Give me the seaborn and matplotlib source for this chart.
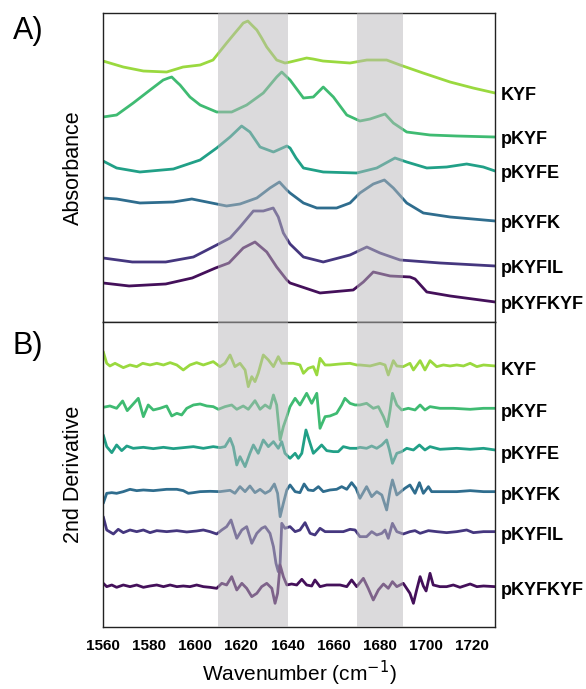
import matplotlib
matplotlib.use("Agg")
import matplotlib.pyplot as plt
from matplotlib.ticker import MultipleLocator
import seaborn as sns
import pandas as pd

samples = ['KYF', 'pKYF', 'pKYFE', 'pKYFK', 'pKYFIL', 'pKYFKYF']
colours = ['#9ad93f', '#3fbb72', '#21a087', '#2f6d8e', '#45377f', '#44105a']
bands = [(1610, 1640), (1670, 1690)]

# A) absorbance, stacked spectra (arbitrary units)
kyf_a_wn = [1560, 1568.8, 1577.5, 1587.6, 1594.7, 1602.1, 1607.7, 1613.6, 1617.2, 1619.4,
            1620.8, 1622.8, 1624.5, 1626.7, 1628.8, 1631.0, 1635.3, 1638.9, 1641.1, 1648.3,
            1651.1, 1655.4, 1667.1, 1674.4, 1683.0, 1688.8, 1698.8, 1710.5, 1720.5, 1730]
kyf_a = [2.61, 2.55, 2.51, 2.50, 2.55, 2.57, 2.62, 2.79, 2.89, 2.95,
         2.99, 3.01, 2.97, 2.92, 2.84, 2.75, 2.62, 2.59, 2.60, 2.64,
         2.63, 2.61, 2.59, 2.62, 2.62, 2.57, 2.49, 2.40, 2.34, 2.29]
pkyf_a_wn = [1560, 1565.9, 1573.1, 1580.4, 1586.1, 1588.4, 1589.8, 1592.0, 1593.4, 1597.7,
             1602.1, 1609.3, 1615.8, 1622.3, 1629.5, 1635.3, 1637.5, 1641.1, 1646.9, 1651.2,
             1655.5, 1659.9, 1665.7, 1671.4, 1675.8, 1682.3, 1685.9, 1691.7, 1701.8, 1713.4,
             1730]
pkyf_a = [2.05, 2.07, 2.19, 2.32, 2.42, 2.44, 2.45, 2.40, 2.37, 2.25,
          2.17, 2.10, 2.10, 2.17, 2.29, 2.45, 2.50, 2.42, 2.24, 2.25,
          2.35, 2.25, 2.07, 2.01, 2.03, 2.08, 1.99, 1.90, 1.87, 1.86,
          1.85]
pkyfe_a_wn = [1560, 1565.9, 1576.0, 1590.5, 1602.1, 1609.3, 1615.1, 1620.1, 1623.7, 1628.1,
              1633.9, 1639.7, 1641.1, 1643.7, 1646.9, 1655.5, 1670.0, 1678.7, 1686.6, 1691.7,
              1700.4, 1709.0, 1717.7, 1724.9, 1730]
pkyfe_a = [1.61, 1.54, 1.50, 1.53, 1.62, 1.74, 1.85, 1.96, 1.90, 1.75,
           1.70, 1.76, 1.74, 1.64, 1.54, 1.50, 1.49, 1.54, 1.64, 1.60,
           1.54, 1.55, 1.58, 1.55, 1.51]
pkyfk_a_wn = [1560, 1565.9, 1576.0, 1590.5, 1598.5, 1605.0, 1613.6, 1619.4, 1626.7, 1632.4,
              1636.5, 1639.7, 1641.1, 1646.9, 1652.7, 1661.3, 1667.1, 1671.4, 1677.2, 1682.0,
              1685.9, 1691.7, 1698.9, 1710.5, 1730]
pkyfk_a = [1.24, 1.23, 1.19, 1.20, 1.23, 1.20, 1.16, 1.18, 1.24, 1.34,
           1.40, 1.32, 1.29, 1.19, 1.14, 1.14, 1.19, 1.29, 1.38, 1.42,
           1.34, 1.19, 1.09, 1.05, 1.01]
pkyfil_a_wn = [1560, 1572.7, 1587.2, 1599.2, 1609.3, 1615.1, 1619.4, 1625.2, 1629.5, 1633.8,
               1636.0, 1638.2, 1641.1, 1646.9, 1655.5, 1667.1, 1674.4, 1680.1, 1688.8, 1706.1,
               1730]
pkyfil_a = [0.64, 0.60, 0.60, 0.65, 0.77, 0.84, 0.95, 1.11, 1.11, 1.14,
            1.05, 0.89, 0.78, 0.65, 0.60, 0.67, 0.75, 0.69, 0.62, 0.59,
            0.56]
pkyfkyf_a_wn = [1560, 1571.3, 1587.2, 1598.7, 1608.8, 1614.6, 1620.8, 1625.9, 1631.0, 1635.3,
                1639.7, 1641.1, 1654.1, 1668.5, 1672.9, 1677.2, 1684.5, 1693.1, 1695.3, 1700.4,
                1710.5, 1730]
pkyfkyf_a = [0.39, 0.36, 0.38, 0.44, 0.54, 0.59, 0.74, 0.80, 0.70, 0.55,
             0.42, 0.39, 0.29, 0.32, 0.40, 0.50, 0.46, 0.45, 0.43, 0.30,
             0.26, 0.20]

# B) second derivative, deviation from each trace's own baseline (arbitrary units)
kyf_b_wn = [1560.1, 1561.6, 1563.0, 1565.2, 1568.8, 1571.7, 1574.6, 1577.2, 1580.4, 1583.3,
            1586.2, 1589.1, 1592.0, 1594.8, 1597.7, 1600.6, 1603.5, 1607.8, 1610.7, 1612.9,
            1615.1, 1617.2, 1619.4, 1621.6, 1623.0, 1624.5, 1625.9, 1627.3, 1629.5, 1631.7,
            1633.9, 1636.0, 1637.5, 1639.7, 1642.5, 1645.4, 1646.9, 1649.0, 1651.2, 1652.7,
            1654.1, 1656.3, 1658.4, 1662.8, 1667.1, 1670.0, 1671.4, 1675.8, 1680.1, 1682.3,
            1683.7, 1685.9, 1687.4, 1690.2, 1693.1, 1694.6, 1697.5, 1699.6, 1701.8, 1704.7,
            1707.6, 1710.5, 1713.4, 1716.3, 1719.2, 1722.1, 1725.0, 1730]
kyf_b = [4.0, 0.5, -0.3, 0.5, -0.8, 0, -0.5, 0.5, 0, 0.5,
         0, 0.7, 0, -1.5, 0, 0.7, 0, 1.0, -0.5, 0.5,
         3.0, -0.5, 0.5, -1.5, -6.5, -3.5, -5.0, -2.5, 3.0, 1.5,
         -0.5, 2.5, 0.5, 0.5, 0.5, 0, -2.5, -1.0, -0.5, -3.0,
         2.0, 0, 0, 0.3, 0.5, 0, 0, -0.3, 0.5, 0,
         -3.0, 1.3, -0.3, -0.5, 0.5, -1.5, 1.3, -1.5, 1.3, -0.5,
         0, -0.3, 0, -0.3, 0.5, -0.5, 0, -0.3]
pkyf_b_wn = [1560.1, 1563.0, 1565.9, 1568.5, 1570.5, 1573.1, 1575.3, 1577.5, 1579.6, 1581.8,
             1584.7, 1587.6, 1589.8, 1592.0, 1594.1, 1596.3, 1599.2, 1602.1, 1605.0, 1607.8,
             1610.0, 1612.9, 1615.8, 1618.0, 1620.8, 1623.0, 1625.9, 1628.1, 1630.3, 1632.4,
             1633.9, 1635.3, 1636.8, 1638.2, 1639.7, 1641.1, 1643.3, 1645.4, 1648.3, 1650.5,
             1652.7, 1654.1, 1656.3, 1658.4, 1661.3, 1663.5, 1664.9, 1667.1, 1669.3, 1671.4,
             1674.3, 1677.2, 1679.4, 1681.6, 1683.3, 1684.5, 1685.5, 1687.4, 1689.5, 1692.4,
             1695.3, 1697.5, 1699.6, 1701.8, 1706.1, 1711.9, 1719.2, 1725.0, 1730]
pkyf_b = [0, 0.4, -0.3, 1.9, -1.0, 1.0, 2.7, -2.8, 0.7, -0.8,
          -0.3, 0.4, -2.6, -1.8, -2.3, -0.3, 0.7, 1.0, 0.4, 0.2,
          -0.6, 0.2, 0.7, -0.6, 0.4, -0.6, 2.0, -0.6, 0.7, -0.3,
          3.7, 0.7, -9.8, -5.8, -2.8, 0.2, 2.7, 0.7, 4.2, 1.2,
          4.2, -6.3, -2.8, -2.6, -1.8, 0.7, 2.7, 1.2, 0.7, 0.7,
          1.2, -0.3, 0.2, -2.8, -5.8, -0.8, 4.2, 0.7, -0.8, -0.3,
          -0.8, 0.7, -0.8, 0.2, -0.3, -0.3, -0.6, -0.3, -0.3]
pkyfe_b_wn = [1560.1, 1561.6, 1563.8, 1565.9, 1568.1, 1570.3, 1573.1, 1577.5, 1581.8, 1586.2,
              1590.5, 1594.8, 1599.2, 1603.5, 1607.8, 1610.7, 1612.9, 1615.1, 1616.5, 1618.0,
              1619.4, 1621.6, 1623.7, 1625.2, 1627.3, 1629.5, 1631.7, 1633.9, 1636.0, 1637.5,
              1638.9, 1641.1, 1643.3, 1644.7, 1646.2, 1648.0, 1649.8, 1651.2, 1653.4, 1654.8,
              1657.0, 1659.9, 1662.0, 1664.2, 1667.1, 1670.0, 1671.4, 1674.3, 1676.5, 1678.7,
              1680.9, 1683.0, 1684.2, 1685.5, 1687.4, 1689.5, 1691.7, 1694.6, 1697.2, 1699.6,
              1701.8, 1706.1, 1713.4, 1719.2, 1725.0, 1730]
pkyfe_b = [4.0, 0.5, -1.3, 1.0, -0.7, 0.7, 0, 0.3, -0.1, 0.3,
           -0.1, 0.2, 0.5, 0, 0.5, 0.2, 0.5, 3.0, 0.5, -5.0,
           -2.5, -5.5, -1.5, 1.0, -1.5, 2.5, 0.5, 2.0, 0, 2.0,
           -1.5, -3.0, -1.5, -3.0, -1.5, 5.5, 1.5, -1.5, 0, 1.0,
           -0.7, -1.0, -1.0, 0.5, 0, 0, 0.3, 0, 0.7, 0,
           1.0, 2.5, -0.5, -4.5, -1.5, -1.0, 0, -0.5, 1.0, -0.5,
           0.5, -0.3, 0, -0.3, 0, -0.5]
pkyfk_b_wn = [1560.1, 1561.6, 1563.8, 1565.9, 1568.8, 1571.7, 1574.6, 1577.5, 1581.8, 1587.6,
              1592.0, 1594.8, 1597.0, 1599.2, 1602.1, 1606.4, 1610.7, 1615.1, 1617.2, 1619.4,
              1621.6, 1623.7, 1625.9, 1628.1, 1630.3, 1632.4, 1634.3, 1635.7, 1636.8, 1638.2,
              1639.7, 1641.1, 1643.3, 1645.4, 1647.2, 1649.0, 1651.2, 1653.4, 1655.5, 1658.4,
              1661.3, 1663.5, 1665.7, 1667.8, 1669.7, 1671.4, 1674.3, 1676.5, 1678.7, 1680.9,
              1683.0, 1684.5, 1685.5, 1687.4, 1690.9, 1693.1, 1695.3, 1697.2, 1698.9, 1701.1,
              1702.5, 1707.6, 1713.4, 1719.2, 1725.0, 1730]
pkyfk_b = [-3.5, -0.5, -0.3, -0.5, 0, 0.7, 0.3, 0.5, 0.3, 0.7,
           0.7, 0.3, -0.5, -0.3, 0, 0.1, 0, 0.4, -0.5, 1.5,
           0, 1.7, -0.3, 0.7, -0.5, 0.3, 2.3, -0.5, -7.5, -3.5,
           0.5, 2.0, 0, -0.3, 2.3, 0.5, 0.3, 1.5, 0, 0.5,
           0.7, 1.5, 0.7, 2.7, 1.0, -2.0, 1.5, -1.5, 0, -1.0,
           -5.5, 0.5, 3.5, -1.0, 1.0, 2.0, -0.5, 2.7, -0.5, 1.5,
           0, 0, 0, 0.3, 0, 0]
pkyfil_b_wn = [1560.1, 1561.6, 1564.5, 1566.6, 1568.8, 1571.7, 1574.6, 1577.5, 1580.4, 1583.3,
               1587.6, 1592.0, 1596.3, 1600.6, 1603.5, 1606.4, 1609.3, 1611.5, 1613.6, 1615.5,
               1618.0, 1620.2, 1622.3, 1624.5, 1626.7, 1628.8, 1630.3, 1632.4, 1633.9, 1635.0,
               1636.0, 1636.8, 1637.5, 1638.9, 1641.1, 1643.3, 1645.4, 1647.6, 1649.8, 1651.9,
               1654.1, 1656.3, 1658.4, 1661.3, 1664.2, 1667.1, 1669.3, 1671.4, 1674.3, 1676.5,
               1678.7, 1680.9, 1682.3, 1683.7, 1685.5, 1687.4, 1690.2, 1693.1, 1695.3, 1697.5,
               1701.1, 1704.7, 1709.0, 1713.4, 1717.7, 1720.6, 1725.0, 1730]
pkyfil_b = [4.5, 0.5, -0.7, 0.7, -0.3, 0.5, 0, 0.5, -0.3, 0.3,
            0, 0.3, -0.1, 0.2, 0.5, 0, -0.7, 0.5, 1.5, 3.5,
            -2.0, 0.5, 1.5, -3.5, -0.5, 1.0, 1.5, -0.5, -4.5, -9.5,
            -12.0, -9.5, 2.5, 1.0, 1.5, 0, 0.5, 2.7, -0.5, -1.0,
            1.0, 0, 0, 0, 0, 0.7, 0.5, -1.5, -1.5, 0,
            -1.0, -0.5, 0.5, -2.0, 2.5, 0, -0.7, 0, 0.3, -0.5,
            0.3, 0, -0.3, 0, 0.5, -0.3, 0, 0]
pkyfkyf_b_wn = [1560.1, 1561.6, 1563.8, 1565.9, 1568.8, 1571.7, 1574.6, 1577.5, 1580.4, 1583.3,
                1586.2, 1589.1, 1592.0, 1594.8, 1597.7, 1600.6, 1603.5, 1606.4, 1609.3, 1611.5,
                1613.6, 1615.8, 1618.0, 1620.2, 1622.3, 1624.5, 1626.7, 1628.8, 1631.0, 1633.2,
                1634.6, 1635.7, 1636.8, 1638.2, 1639.7, 1641.8, 1644.0, 1646.2, 1648.3, 1650.5,
                1651.9, 1654.1, 1657.0, 1659.9, 1662.8, 1665.7, 1667.8, 1670.0, 1672.9, 1675.0,
                1677.2, 1679.4, 1681.6, 1683.7, 1685.5, 1687.4, 1690.2, 1693.1, 1694.6, 1696.0,
                1697.5, 1698.9, 1700.1, 1701.8, 1703.2, 1706.1, 1709.0, 1711.9, 1714.8, 1719.2,
                1722.1, 1725.0, 1730]
pkyfkyf_b = [0.8, -0.2, 0.3, -0.4, 0.3, -0.2, 0.3, -0.4, 0, 0.3,
             -0.2, 0.3, -0.2, 0, -0.2, 0.3, -0.2, -0.4, -0.7, 0.8,
             0.3, 2.8, -1.2, 0.8, -0.7, -3.2, -2.2, -0.2, 0.8, -0.7,
             -5.2, -2.2, 6.3, 2.8, 0.3, 0.6, 0.3, 2.0, 0.3, 0,
             1.8, -0.2, 0.3, 0.3, 0.3, -0.2, 1.8, -0.2, 2.3, -0.7,
             -4.2, -1.2, 0.6, -0.7, 1.3, -0.2, 0.8, -2.2, -5.2, -1.2,
             2.8, 0, -1.5, 3.8, 0.3, -0.2, -0.2, 0.3, -0.4, 0.6,
             -0.2, 0, -0.2]

abs_wn = [kyf_a_wn, pkyf_a_wn, pkyfe_a_wn, pkyfk_a_wn, pkyfil_a_wn, pkyfkyf_a_wn]
abs_vals = [kyf_a, pkyf_a, pkyfe_a, pkyfk_a, pkyfil_a, pkyfkyf_a]
der_wn = [kyf_b_wn, pkyf_b_wn, pkyfe_b_wn, pkyfk_b_wn, pkyfil_b_wn, pkyfkyf_b_wn]
der_vals = [kyf_b, pkyf_b, pkyfe_b, pkyfk_b, pkyfil_b, pkyfkyf_b]
der_offsets = [78.6, 65.9, 53.6, 40.6, 28.6, 12.3]

abs_df = pd.concat([pd.DataFrame({'wn': w, 'y': v, 'sample': s})
                    for s, w, v in zip(samples, abs_wn, abs_vals)])
der_df = pd.concat([pd.DataFrame({'wn': w, 'y': [d + off for d in v], 'sample': s})
                    for s, w, v, off in zip(samples, der_wn, der_vals, der_offsets)])

sns.set_style('white')
plt.rcParams['font.family'] = ['Liberation Sans', 'DejaVu Sans']
plt.rcParams.update({'text.color': 'black', 'axes.labelcolor': 'black',
                     'xtick.color': 'black', 'axes.edgecolor': 'black'})

fig = plt.figure(figsize=(5.86, 6.89), dpi=100)
ax_a = fig.add_axes([0.1758, 0.5327, 0.669, 0.4484])
ax_b = fig.add_axes([0.1758, 0.0900, 0.669, 0.4427], sharex=ax_a)
palette = dict(zip(samples, colours))

for ax, df in [(ax_a, abs_df), (ax_b, der_df)]:
    sns.lineplot(data=df, x='wn', y='y', hue='sample', palette=palette, estimator=None,
                 sort=False, legend=False, linewidth=2.0, ax=ax)
    # grey bands sit over the traces, so the lines show through paler
    for lo, hi in bands:
        ax.axvspan(lo, hi, color='#b9b7bb', alpha=0.5, lw=0, zorder=3)
    for sp in ax.spines.values():
        sp.set_color('#222222')
        sp.set_linewidth(1.0)
    ax.set_yticks([])
    ax.set_xlabel('')

ax_a.set_xlim(1560, 1730)
ax_a.set_ylim(0, 3.09)
ax_b.set_ylim(0, 91.5)

ax_a.xaxis.set_major_locator(MultipleLocator(20))
ax_a.tick_params(axis='x', direction='in', length=6, width=1, labelbottom=False)
ax_b.xaxis.set_minor_locator(MultipleLocator(10))
ax_b.tick_params(axis='x', which='major', direction='out', length=5, width=1,
                 labelsize=11, pad=4)
ax_b.tick_params(axis='x', which='minor', direction='out', length=3, width=1)
for lab in ax_b.get_xticklabels():
    lab.set_fontweight('bold')

ax_a.set_ylabel('Absorbance', fontsize=15.5, labelpad=14)
ax_b.set_ylabel('2nd Derivative', fontsize=15.5, labelpad=14)
ax_b.set_xlabel('Wavenumber (cm$^{-1}$)', fontsize=15, labelpad=4)

for s, v in zip(samples, abs_vals):
    ax_a.annotate(s, (1730, v[-1]), xytext=(4, -2), textcoords='offset points',
                  fontsize=13, fontweight='bold', va='center', ha='left', annotation_clip=False)
for s, v, off in zip(samples, der_vals, der_offsets):
    ax_b.annotate(s, (1730, v[-1] + off), xytext=(4, -3), textcoords='offset points',
                  fontsize=13, fontweight='bold', va='center', ha='left', annotation_clip=False)

fig.text(0.022, 0.955, 'A)', fontsize=22, va='center', ha='left')
fig.text(0.022, 0.498, 'B)', fontsize=22, va='center', ha='left')

fig.savefig('out.png', dpi=100)
